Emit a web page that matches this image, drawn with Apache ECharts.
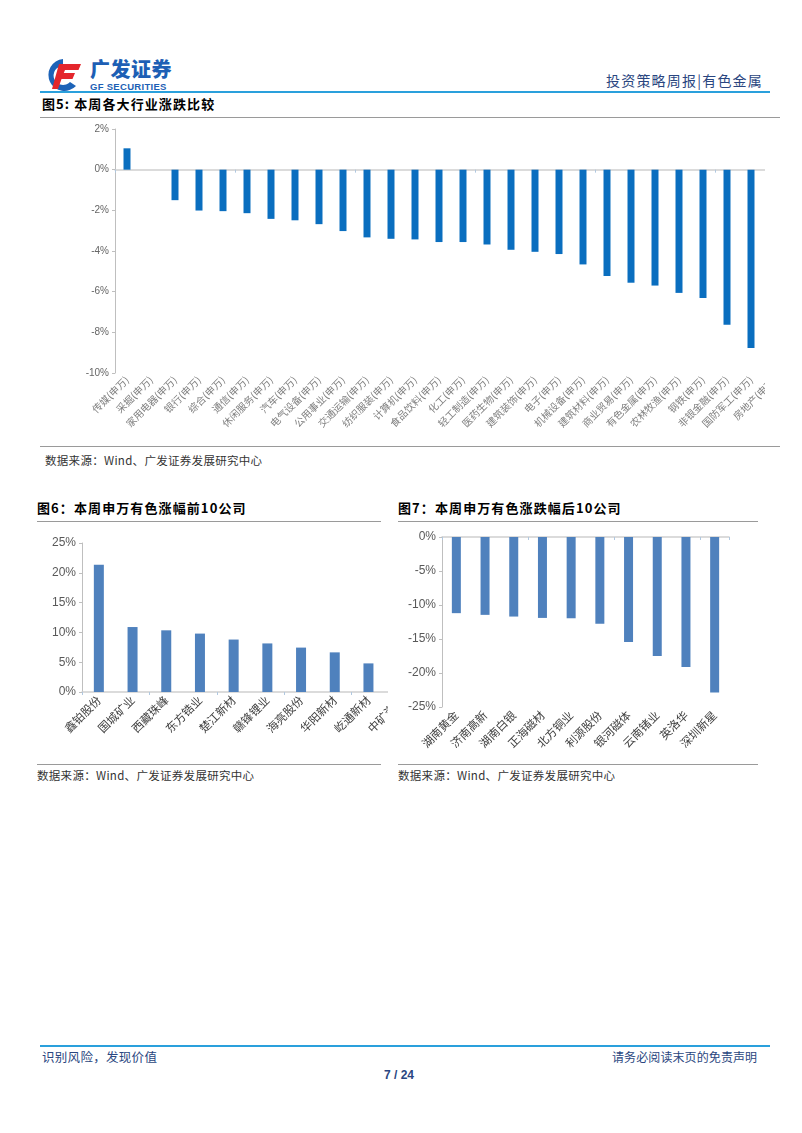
<!DOCTYPE html>
<html><head><meta charset="utf-8">
<script src="https://cdn.jsdelivr.net/npm/echarts@6/dist/echarts.min.js"></script>
<style>
html,body{margin:0;padding:0;background:#fff;}
body{width:802px;height:1133px;position:relative;overflow:hidden;font-family:"Noto Sans CJK SC","Noto Sans",sans-serif;color:#000;}
.abs{position:absolute;white-space:nowrap;}
.clip{position:absolute;overflow:hidden;}
.title{font-size:13px;font-weight:bold;line-height:16px;letter-spacing:1.1px;}
.src{font-size:11.5px;color:#333;line-height:14px;letter-spacing:0.3px;}
.navy{color:#2a4680;}
</style></head><body>
<!-- header -->
<svg class="abs" style="left:45px;top:57px" width="38" height="35" viewBox="0 0 38 35">
  <path d="M18 2 A16 16 0 1 0 31 29 L25 25 A9.5 9.5 0 1 1 18 9 Z" fill="#1d63b8"/>
  <path d="M14 7 L36 7 L33.5 13 L20 13 L18.8 16 L30 16 L27.5 22 L16.5 22 L13 32 L7 32 Z" fill="#e4262c"/>
</svg>
<div class="abs" style="left:90px;top:57px;font-size:20px;font-weight:900;color:#1d5fb5;letter-spacing:0.5px;line-height:24px">广发证券</div>
<div class="abs" style="left:90px;top:82px;font-size:9.5px;font-weight:bold;color:#1d5fb5;font-family:'Liberation Sans',Arial,sans-serif;line-height:10px;letter-spacing:0.3px">GF SECURITIES</div>
<div class="abs navy" style="left:606px;top:71px;font-size:14px;line-height:18px;letter-spacing:1.2px">投资策略周报|有色金属</div>
<div class="abs" style="left:40px;top:91px;width:730px;height:2px;background:#2aa0dc"></div>

<!-- figure 5 -->
<div class="abs title" style="left:42px;top:96px">图5:&nbsp;本周各大行业涨跌比较</div>
<div class="abs" style="left:40px;top:117px;width:740px;height:1px;background:#9a9a9a"></div>
<div class="clip" style="left:40px;top:120px;width:725px;height:326px"><div id="c5" style="width:760px;height:326px"></div></div>
<div class="abs" style="left:40px;top:446px;width:740px;height:1px;background:#9a9a9a"></div>
<div class="abs src" style="left:45px;top:453px">数据来源：Wind、广发证券发展研究中心</div>

<!-- figure 6 -->
<div class="abs title" style="left:37px;top:500px">图6：本周申万有色涨幅前10公司</div>
<div class="abs" style="left:37px;top:521px;width:344px;height:1px;background:#9a9a9a"></div>
<div class="clip" style="left:37px;top:525px;width:351px;height:238px"><div id="c6" style="width:400px;height:238px"></div></div>
<div class="abs" style="left:37px;top:764px;width:344px;height:1px;background:#9a9a9a"></div>
<div class="abs src" style="left:37px;top:768px">数据来源：Wind、广发证券发展研究中心</div>

<!-- figure 7 -->
<div class="abs title" style="left:398px;top:500px">图7：本周申万有色涨跌幅后10公司</div>
<div class="abs" style="left:398px;top:521px;width:360px;height:1px;background:#9a9a9a"></div>
<div id="c7" class="abs" style="left:398px;top:525px;width:360px;height:238px"></div>
<div class="abs" style="left:398px;top:764px;width:360px;height:1px;background:#9a9a9a"></div>
<div class="abs src" style="left:398px;top:768px">数据来源：Wind、广发证券发展研究中心</div>

<!-- footer -->
<div class="abs" style="left:40px;top:1045px;width:730px;height:2px;background:#2aa0dc"></div>
<div class="abs navy" style="left:42px;top:1049px;font-size:12.5px;line-height:16px;letter-spacing:0.3px">识别风险，发现价值</div>
<div class="abs navy" style="left:612px;top:1049px;font-size:12px;line-height:16px;letter-spacing:0.1px">请务必阅读末页的免责声明</div>
<div class="abs navy" style="left:384px;top:1067px;font-size:12px;font-weight:bold;line-height:16px;font-family:'Liberation Sans',Arial,sans-serif">7 / 24</div>

<script>
// ---------- data ----------
const industryNames = ['传媒(申万)','采掘(申万)','家用电器(申万)','银行(申万)','综合(申万)','通信(申万)','休闲服务(申万)','汽车(申万)','电气设备(申万)','公用事业(申万)','交通运输(申万)','纺织服装(申万)','计算机(申万)','食品饮料(申万)','化工(申万)','轻工制造(申万)','医药生物(申万)','建筑装饰(申万)','电子(申万)','机械设备(申万)','建筑材料(申万)','商业贸易(申万)','有色金属(申万)','农林牧渔(申万)','钢铁(申万)','非银金融(申万)','国防军工(申万)','房地产(申万)'];
const industryValues = [1.05, 0, -1.50, -2.01, -2.04, -2.14, -2.42, -2.49, -2.68, -3.02, -3.33, -3.40, -3.43, -3.56, -3.56, -3.68, -3.94, -4.04, -4.15, -4.66, -5.23, -5.56, -5.70, -6.06, -6.31, -7.63, -8.77, -9.40];
const industryTicks = [-10, -8, -6, -4, -2, 0, 2];

const gainerNames = ['鑫铂股份','国城矿业','西藏珠峰','东方锆业','楚江新材','赣锋锂业','海亮股份','华阳新材','屹通新材','中矿资源'];
const gainerValues = [21.35, 10.9, 10.35, 9.8, 8.8, 8.15, 7.45, 6.65, 4.8, 4.5];
const gainerTicks = [0, 5, 10, 15, 20, 25];

const loserNames = ['湖南黄金','济南高新','湖南白银','正海磁材','北方铜业','利源股份','银河磁体','云南锗业','英洛华','深圳新星'];
const loserValues = [-11.2, -11.45, -11.7, -11.9, -11.95, -12.75, -15.45, -17.5, -19.1, -22.85];
const loserTicks = [-25, -20, -15, -10, -5, 0];

// ---------- helpers ----------
const pct = v => v + '%';
const axisGray = '#bfbfbf';
function valueAxis(ticks, fontSize, color) {
  return {
    type: 'value', min: ticks[0], max: ticks[ticks.length - 1], interval: ticks[1] - ticks[0],
    axisLine: { show: true, lineStyle: { color: axisGray, width: 1 } },
    axisTick: { show: true, length: 3, lineStyle: { color: axisGray } },
    splitLine: { show: false },
    axisLabel: { formatter: pct, fontSize: fontSize, color: color, margin: 6, fontFamily: 'Liberation Sans, Arial, sans-serif' }
  };
}
function catAxes(names, labelSize, labelColor, margin) {
  return [
    { type: 'category', data: names, position: 'bottom',
      axisLine: { show: true, onZero: true, lineStyle: { color: '#d0d0d0', width: 1.5 } },
      axisTick: { show: true, length: 3, lineStyle: { color: '#b0c8e0' } },
      axisLabel: { show: false } },
    { type: 'category', data: names, position: 'bottom',
      axisLine: { show: false, onZero: false }, axisTick: { show: false },
      axisLabel: { show: true, interval: 0, rotate: 45, fontSize: labelSize, color: labelColor, margin: margin,
        fontFamily: 'Noto Sans CJK SC, sans-serif' } }
  ];
}

// ---------- figure 5 ----------
echarts.init(document.getElementById('c5'), null, { renderer: 'canvas' }).setOption({
  animation: false,
  grid: { left: 75, right: 13, top: 9, bottom: 73 },
  xAxis: catAxes(industryNames, 10, '#7f7f7f', 5),
  yAxis: valueAxis(industryTicks, 10, '#666666'),
  series: [{ type: 'bar', xAxisIndex: 0, data: industryValues, barWidth: 7, itemStyle: { color: '#0a6ebf' } }]
});

// ---------- figure 6 ----------
echarts.init(document.getElementById('c6')).setOption({
  animation: false,
  grid: { left: 45, right: 18, top: 18, bottom: 71 },
  xAxis: catAxes(gainerNames, 11.5, '#404040', 6),
  yAxis: valueAxis(gainerTicks, 12, '#595959'),
  series: [{ type: 'bar', xAxisIndex: 0, data: gainerValues, barWidth: 10, itemStyle: { color: '#4f81bd' } }]
});

// ---------- figure 7 ----------
echarts.init(document.getElementById('c7')).setOption({
  animation: false,
  grid: { left: 44, right: 29, top: 12, bottom: 56 },
  xAxis: catAxes(loserNames, 11.5, '#404040', 6),
  yAxis: valueAxis(loserTicks, 12, '#595959'),
  series: [{ type: 'bar', xAxisIndex: 0, data: loserValues, barWidth: 9, itemStyle: { color: '#4f81bd' } }]
});
</script>
</body></html>
